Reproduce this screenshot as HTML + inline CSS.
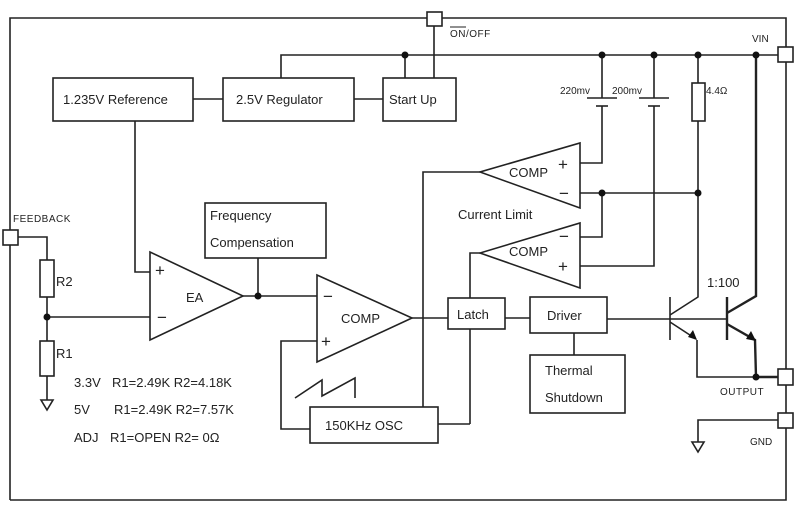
<!DOCTYPE html>
<html><head><meta charset="utf-8"><style>
html,body{margin:0;padding:0;background:#fff;}
svg{display:block;}
text{font-family:"Liberation Sans",Arial,sans-serif;fill:#222;}
</style></head><body>
<svg width="800" height="511" viewBox="0 0 800 511" xmlns="http://www.w3.org/2000/svg">
<g stroke="#222" stroke-width="1.6" fill="none">
<polyline points="10,500 10,18 786,18 786,500 10,500"/>
<polyline points="281,78 281,55 778,55"/>
<line x1="405" y1="55" x2="405" y2="78"/>
<line x1="434" y1="26" x2="434" y2="78"/>
<rect x="53" y="78" width="140" height="43"/>
<rect x="223" y="78" width="131" height="43"/>
<rect x="383" y="78" width="73" height="43"/>
<line x1="193" y1="99" x2="223" y2="99"/>
<line x1="354" y1="99" x2="383" y2="99"/>
<polyline points="135,121 135,272 150,272"/>
<line x1="602" y1="55" x2="602" y2="98"/>
<line x1="587" y1="98" x2="617" y2="98"/>
<line x1="596" y1="106" x2="608" y2="106"/>
<polyline points="602,106 602,163 580,163"/>
<line x1="654" y1="55" x2="654" y2="98"/>
<line x1="639" y1="98" x2="669" y2="98"/>
<line x1="648" y1="106" x2="660" y2="106"/>
<polyline points="654,106 654,266 580,266"/>
<line x1="698" y1="55" x2="698" y2="83"/>
<rect x="692" y="83" width="13" height="38"/>
<polyline points="698,121 698,297 670,315"/>
<line x1="580" y1="193" x2="698" y2="193"/>
<polyline points="602,193 602,237 580,237"/>
<polygon points="580,143 580,208 480,172"/>
<polygon points="580,223 580,288 480,253"/>
<polyline points="480,172 423,172 423,407"/>
<polyline points="480,253 470,253 470,298"/>
<line x1="470" y1="329" x2="470" y2="424"/>
<line x1="438" y1="424" x2="470" y2="424"/>
<rect x="448" y="298" width="57" height="31"/>
<rect x="530" y="297" width="77" height="36"/>
<rect x="530" y="355" width="95" height="58"/>
<line x1="505" y1="318" x2="530" y2="318"/>
<line x1="574" y1="333" x2="574" y2="355"/>
<line x1="607" y1="319" x2="727" y2="319"/>
<line x1="670" y1="297" x2="670" y2="340"/>
<line x1="670" y1="322" x2="696" y2="339"/>
<polyline points="697,340 697,377 756,377"/>
<line x1="727" y1="297" x2="727" y2="340" stroke-width="2.4"/>
<polyline points="727,313 756,296 756,55" stroke-width="2.4"/>
<polyline points="727,324 755,340 756,377 778,377" stroke-width="2.4"/>
<rect x="427" y="12" width="15" height="14" fill="#fff"/>
<rect x="778" y="47" width="15" height="15" fill="#fff"/>
<rect x="778" y="369" width="15" height="16" fill="#fff"/>
<rect x="778" y="413" width="15" height="15" fill="#fff"/>
<rect x="3" y="230" width="15" height="15" fill="#fff"/>
<polyline points="778,420 698,420 698,442"/>
<polygon points="692,442 704,442 698,452"/>
<polygon points="150,252 150,340 243,296"/>
<line x1="243" y1="296" x2="317" y2="296"/>
<line x1="258" y1="296" x2="258" y2="258"/>
<rect x="205" y="203" width="121" height="55"/>
<polygon points="317,275 317,362 412,318"/>
<line x1="412" y1="318" x2="448" y2="318"/>
<polyline points="317,341 281,341 281,429 310,429"/>
<rect x="310" y="407" width="128" height="36"/>
<polyline points="295,398 322,380 322,396 355,378 355,398"/>
<polyline points="18,237 47,237 47,260"/>
<rect x="40" y="260" width="14" height="37"/>
<line x1="47" y1="297" x2="47" y2="341"/>
<line x1="47" y1="317" x2="150" y2="317"/>
<rect x="40" y="341" width="14" height="35"/>
<line x1="47" y1="376" x2="47" y2="400"/>
<polygon points="41,400 53,400 47,410"/>
</g>
<g fill="#111">
<circle cx="405" cy="55" r="3.5"/><circle cx="602" cy="55" r="3.5"/><circle cx="654" cy="55" r="3.5"/>
<circle cx="698" cy="55" r="3.5"/><circle cx="756" cy="55" r="3.5"/>
<circle cx="602" cy="193" r="3.5"/><circle cx="698" cy="193" r="3.5"/>
<circle cx="258" cy="296" r="3.5"/><circle cx="47" cy="317" r="3.5"/><circle cx="756" cy="377" r="3.5"/>
<polygon points="697,340 688,337 693,330"/>
<polygon points="756,341 746,339 751,331"/>
</g>
<g font-size="13">
<text x="63" y="104">1.235V Reference</text>
<text x="236" y="104">2.5V Regulator</text>
<text x="389" y="104">Start Up</text>
<text x="210" y="220">Frequency</text>
<text x="210" y="247">Compensation</text>
<text x="186" y="302">EA</text>
<text x="341" y="323">COMP</text>
<text x="509" y="177">COMP</text>
<text x="509" y="256">COMP</text>
<text x="458" y="219">Current Limit</text>
<text x="457" y="319">Latch</text>
<text x="547" y="320">Driver</text>
<text x="545" y="375">Thermal</text>
<text x="545" y="402">Shutdown</text>
<text x="325" y="430">150KHz OSC</text>
<text x="707" y="287">1:100</text>
<text x="56" y="286">R2</text>
<text x="56" y="358">R1</text>
<text x="74" y="387">3.3V</text><text x="112" y="387">R1=2.49K R2=4.18K</text>
<text x="74" y="414">5V</text><text x="114" y="414">R1=2.49K R2=7.57K</text>
<text x="74" y="442">ADJ</text><text x="110" y="442">R1=OPEN R2= 0Ω</text>
</g>
<g font-size="17">
<text x="155" y="276">+</text><text x="157" y="323">−</text>
<text x="323" y="302">−</text><text x="321" y="347">+</text>
<text x="558" y="170">+</text><text x="559" y="199">−</text>
<text x="559" y="242">−</text><text x="558" y="272">+</text>
</g>
<g font-size="10">
<text x="13" y="222" letter-spacing="0.5">FEEDBACK</text>
<text x="450" y="37" letter-spacing="0.5">ON/OFF</text>
<text x="752" y="42">VIN</text>
<text x="720" y="395" letter-spacing="0.5">OUTPUT</text>
<text x="750" y="445">GND</text>
<text x="560" y="94">220mv</text>
<text x="612" y="94">200mv</text>
<text x="706" y="94">4.4Ω</text>
</g>
<line x1="450" y1="27" x2="466" y2="27" stroke="#222" stroke-width="1"/>
</svg>
</body></html>
